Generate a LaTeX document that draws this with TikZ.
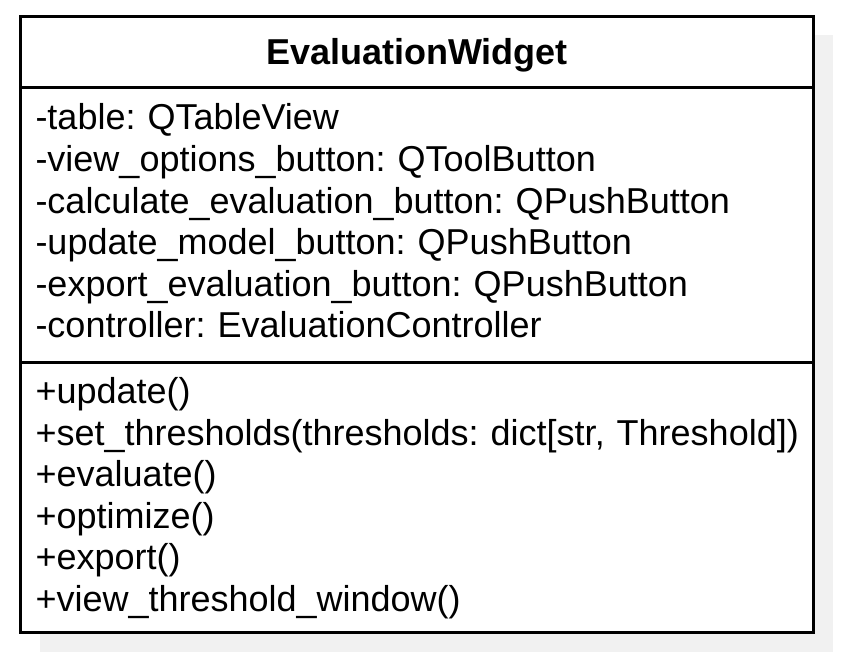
\documentclass[tikz,border=0pt]{standalone}
\usepackage{fontspec}
\setmainfont{Liberation Sans}
\usetikzlibrary{positioning,backgrounds}
\definecolor{shadowgray}{HTML}{F1F1F1}
\tikzset{
  classpart/.style={rectangle, draw, fill=white, line width=3pt, outer sep=0pt, inner xsep=15pt, inner ysep=0pt,
    text width=763pt, align=left, font=\fontsize{36}{41.6}\selectfont\frenchspacing},
}
\begin{document}
\begin{tikzpicture}
    \useasboundingbox (0,0) rectangle (842pt,-660pt);
    \node(header) [classpart, anchor=north west, align=center, text height=25pt, text depth=0pt, minimum height=71pt, font=\fontsize{36}{40}\selectfont\bfseries] at (20.5pt,-16.5pt) {EvaluationWidget};
    \node(attributes) [classpart, anchor=north, below=0pt of header, text height=42.5pt, text depth=232pt]{
        -table: QTableView\\
        -view\_options\_button: QToolButton\\
        -calculate\_evaluation\_button: QPushButton\\
        -update\_model\_button: QPushButton\\
        -export\_evaluation\_button: QPushButton\\
        -controller: EvaluationController
    };
    \node(methods) [classpart, anchor=north, below=0pt of attributes, text height=41.5pt, text depth=228.5pt]{
        +update()\\
        \mbox{+set\_thresholds(thresholds: dict[str, Threshold])}\\
        +evaluate()\\
        +optimize()\\
        +export()\\
        +view\_threshold\_window()
    };
    \begin{scope}[on background layer]
        \fill[shadowgray] ([shift={(19pt,-19pt)}]header.north west) rectangle ([shift={(19.5pt,-19.5pt)}]methods.south east);
    \end{scope}
\end{tikzpicture}
\end{document}
